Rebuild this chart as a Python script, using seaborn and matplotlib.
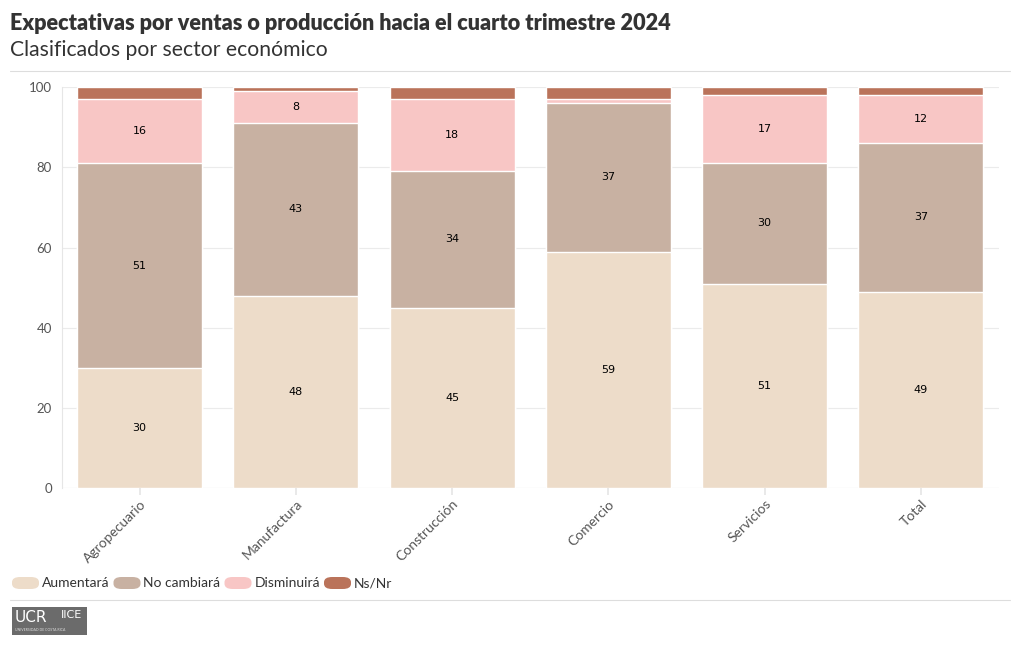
import numpy as np
import pandas as pd
import matplotlib.pyplot as plt
import seaborn as sns
from matplotlib.patches import FancyBboxPatch, Rectangle

sectores = ['Agropecuario', 'Manufactura', 'Construcción', 'Comercio', 'Servicios', 'Total']
series = ['Aumentará', 'No cambiará', 'Disminuirá', 'Ns/Nr']
aumentara = [30, 48, 45, 59, 51, 49]
no_cambiara = [51, 43, 34, 37, 30, 37]
disminuira = [16, 8, 18, 1, 17, 12]
ns_nr = [3, 1, 3, 3, 2, 2]
colores = ['#EDDCC9', '#C8B1A2', '#F8C6C5', '#BA735A']

sns.set_theme(style='white')
plt.rcParams['font.family'] = ['Lato', 'DejaVu Sans']

df = pd.DataFrame({'Sector': sectores, 'Aumentará': aumentara, 'No cambiará': no_cambiara,
                   'Disminuirá': disminuira, 'Ns/Nr': ns_nr})
cum = df[series].cumsum(axis=1)
cum['Sector'] = sectores

fig = plt.figure(figsize=(10.2, 6.5), dpi=100)
ax = fig.add_axes([0.0603, 0.249, 0.919, 0.617])

# stacked bars: draw cumulative totals from the top segment down
for s, c in zip(series[::-1], colores[::-1]):
    sns.barplot(data=cum, x='Sector', y=s, color=c, width=0.8, ax=ax,
                edgecolor='white', linewidth=1.0, saturation=1)

# value labels centred in segments
for i in range(len(sectores)):
    base = 0
    for s in series:
        v = df[s].iloc[i]
        if s != 'Ns/Nr' and v >= 5:
            ax.text(i, base + v / 2, f'{v}', ha='center', va='center',
                    fontsize=8, color='black', family='DejaVu Sans')
        base += v

ax.set_ylim(0, 100)
ax.set_xlim(-0.5, len(sectores) - 0.5)
ax.set_yticks([0, 20, 40, 60, 80, 100])
ax.set_xlabel('')
ax.set_ylabel('')
ax.yaxis.grid(True, color='#ebebeb', linewidth=0.8)
ax.set_axisbelow(True)
for sp in ['top', 'right', 'bottom']:
    ax.spines[sp].set_visible(False)
ax.spines['left'].set_color('#e6e6e6')
ax.spines['left'].set_linewidth(0.8)
ax.axhline(0, color='#e6e6e6', linewidth=0.8, zorder=0)
ax.tick_params(axis='y', length=4, color='#e6e6e6', labelsize=9.5, labelcolor='#555555', pad=3)
ax.tick_params(axis='x', length=5, color='#e6e6e6', labelsize=10, labelcolor='#555555', pad=2, bottom=True)
plt.setp(ax.get_xticklabels(), rotation=45, ha='right', rotation_mode='anchor')

# title and subtitle
fig.text(10 / 1020, 1 - 24 / 650, 'Expectativas por ventas o producción hacia el cuarto trimestre 2024',
         fontsize=15.6, fontweight='heavy', color='#333333', va='center')
fig.text(10 / 1020, 1 - 50 / 650, 'Clasificados por sector económico',
         fontsize=15.2, color='#333333', va='center')
fig.add_artist(plt.Line2D([10 / 1020, 1010 / 1020], [1 - 71 / 650, 1 - 71 / 650],
                          color='#dddddd', linewidth=0.8, transform=fig.transFigure))
fig.add_artist(plt.Line2D([10 / 1020, 1010 / 1020], [1 - 600 / 650, 1 - 600 / 650],
                          color='#dddddd', linewidth=0.8, transform=fig.transFigure))

# legend with rounded swatches
x = 12
yc = 1 - 583 / 650
for s, c in zip(series, colores):
    fig.add_artist(FancyBboxPatch((x / 1020, yc - 6 / 650), 27 / 1020, 12 / 650,
                                  boxstyle='round,pad=0,rounding_size=0.008', transform=fig.transFigure,
                                  facecolor=c, edgecolor='none', mutation_aspect=1))
    t = fig.text((x + 30) / 1020, yc, s, fontsize=10, color='#333333', va='center')
    fig.canvas.draw()
    w = t.get_window_extent().width
    x = x + 30 + w + 4

# logo placeholder
fig.add_artist(Rectangle((12 / 1020, 1 - 635 / 650), 75 / 1020, 28 / 650,
                         transform=fig.transFigure, facecolor='#6b6b6b', edgecolor='none'))
fig.text(15 / 1020, 1 - 617 / 650, 'UCR', fontsize=11, color='white', va='center', family='DejaVu Sans')
fig.text(61 / 1020, 1 - 615 / 650, 'IICE', fontsize=8, color='white', va='center', family='DejaVu Sans')
fig.text(15 / 1020, 1 - 630 / 650, 'UNIVERSIDAD DE COSTA RICA', fontsize=2.5, color='#dddddd', va='center')

fig.savefig('out.png', dpi=100)
